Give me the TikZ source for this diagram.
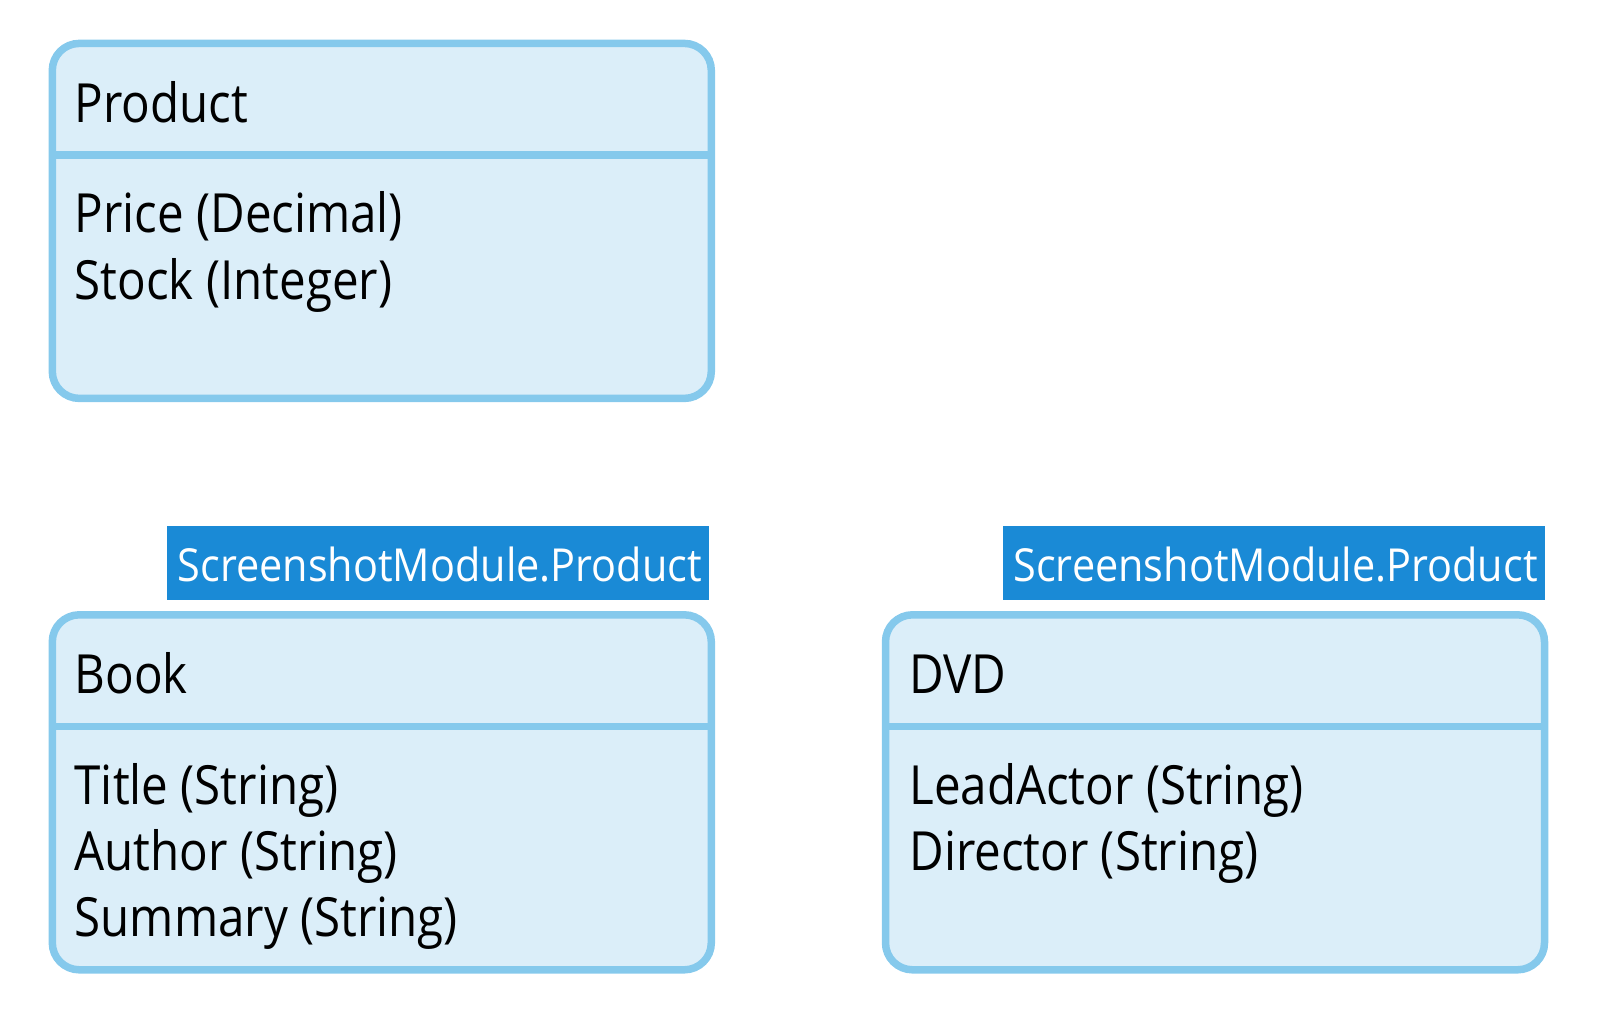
\documentclass[tikz,border=0pt]{standalone}
\usepackage{fontspec}
\setmainfont[FakeStretch=0.88]{Open Sans}
\newfontfamily\tagfont[FakeStretch=0.91]{Open Sans}
\definecolor{boxline}{HTML}{85C9EC}
\definecolor{boxfill}{HTML}{DBEEF9}
\definecolor{tagfill}{HTML}{1A8AD6}
\begin{document}
\begin{tikzpicture}[x=1pt,y=-1pt,
  classbox/.style={draw=boxline, fill=boxfill, line width=7.5pt, rounded corners=27pt, minimum width=659pt, minimum height=355pt, inner sep=0pt, outer sep=0pt, anchor=north west},
  sepline/.style={draw=boxline, line width=7.5pt},
  tagbox/.style={fill=tagfill, minimum width=542pt, minimum height=74.5pt, inner sep=0pt, outer sep=0pt, anchor=north west},
  txt/.style={anchor=base west, inner sep=0pt, font=\fontsize{54}{65}\selectfont, text=black},
  tagtxt/.style={anchor=base west, inner sep=0pt, font=\tagfont\fontsize{45.5}{55}\selectfont, text=white}]
\useasboundingbox (0,0) rectangle (1600,1026);
% Product
\node[classbox] (product) at (52.3,43.4) {};
\draw[sepline] (product.west |- 0,155.1) -- (product.east |- 0,155.1);
\node[txt] (productname) at (74.5,122.4) {Product};
\node[txt] (price) at (74.5,232.7) {Price (Decimal)};
\node[txt] (stock) at (74.5,299) {Stock (Integer)};
% Book
\node[tagbox] (booktag) at (167.3,525.5) {};
\node[tagtxt] (booktagtxt) at (177.6,581.6) {ScreenshotModule.Product};
\node[classbox] (book) at (52.3,614.8) {};
\draw[sepline] (book.west |- 0,726.5) -- (book.east |- 0,726.5);
\node[txt] (bookname) at (74.5,693.9) {Book};
\node[txt] (title) at (74.5,804.1) {Title (String)};
\node[txt] (author) at (74.5,870.4) {Author (String)};
\node[txt] (summary) at (74.5,936.7) {Summary (String)};
% DVD
\node[tagbox] (dvdtag) at (1003.1,525.5) {};
\node[tagtxt] (dvdtagtxt) at (1013.3,581.6) {ScreenshotModule.Product};
\node[classbox] (dvd) at (885.5,614.8) {};
\draw[sepline] (dvd.west |- 0,726.5) -- (dvd.east |- 0,726.5);
\node[txt] (dvdname) at (909.2,693.9) {DVD};
\node[txt] (leadactor) at (909.2,804.1) {LeadActor (String)};
\node[txt] (director) at (909.2,870.4) {Director (String)};
\end{tikzpicture}
\end{document}
